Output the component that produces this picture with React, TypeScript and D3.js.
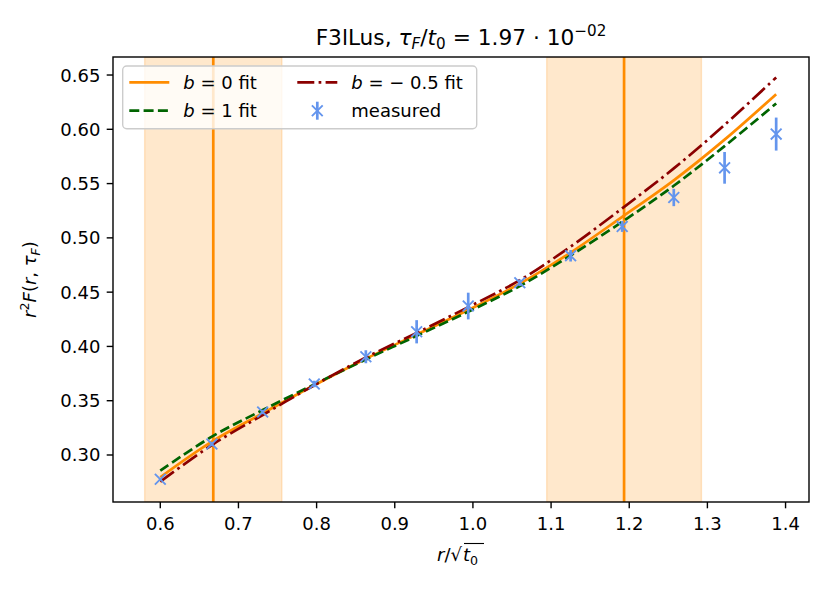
import * as d3 from "d3";

// r / sqrt(t0) of the measured points (fit curves are sampled at the same r)
const R_VALUES = [0.6, 0.666, 0.731, 0.797, 0.863, 0.928, 0.994, 1.06, 1.125, 1.191, 1.257, 1.322, 1.388];
const MEASURED = [0.2777, 0.3101, 0.3396, 0.3654, 0.3905, 0.4135, 0.4372, 0.4587, 0.4835, 0.5105, 0.5372, 0.5645, 0.5956];
const MEASURED_ERR = [0.001, 0.002, 0.002, 0.003, 0.006, 0.0107, 0.0123, 0.003, 0.0053, 0.005, 0.008, 0.0146, 0.0152];

const FIT_B0 = [0.2795, 0.3123, 0.3384, 0.3642, 0.3886, 0.411, 0.4335, 0.4578, 0.4865, 0.5194, 0.553, 0.5905, 0.6324];
const FIT_B1 = [0.2856, 0.3169, 0.3414, 0.365, 0.388, 0.4097, 0.432, 0.4556, 0.4838, 0.5148, 0.548, 0.5845, 0.6238];
const FIT_BM05 = [0.2754, 0.3092, 0.3368, 0.3642, 0.3898, 0.4125, 0.4362, 0.461, 0.492, 0.5272, 0.564, 0.604, 0.6478];

// fit windows: centre and half width
const WINDOW_CENTERS = [0.6678, 1.1934];
const WINDOW_HALF = [0.0878, 0.099];

const X_TICKS = [0.6, 0.7, 0.8, 0.9, 1.0, 1.1, 1.2, 1.3, 1.4];
const Y_TICKS = [0.3, 0.35, 0.4, 0.45, 0.5, 0.55, 0.6, 0.65];

const WIDTH = 830;
const HEIGHT = 595;
const LEFT = 113;
const RIGHT = 809;
const TOP = 57;
const BOTTOM = 502;

const ORANGE = "#ff8c00";
const GREEN = "#006400";
const RED = "#8b0000";
const BLUE = "#6495ed";
const FONT = "DejaVu Sans, sans-serif";

const x = d3.scaleLinear().domain([0.5395, 1.43]).range([LEFT, RIGHT]);
const y = d3.scaleLinear().domain([0.2567, 0.6666]).range([BOTTOM, TOP]);

const line = d3
  .line<number>()
  .x((_, i) => x(R_VALUES[i]))
  .y((d) => y(d))
  .curve(d3.curveCatmullRom.alpha(0.5));

const FITS = [
  { values: FIT_B0, color: ORANGE, dash: "none" },
  { values: FIT_B1, color: GREEN, dash: "10,4.3" },
  { values: FIT_BM05, color: RED, dash: "17,4.3,2.7,4.3" },
];

const xMarker = (cx: number, cy: number, s = 5.4) =>
  `M${cx - s},${cy - s}L${cx + s},${cy + s}M${cx - s},${cy + s}L${cx + s},${cy - s}`;

export default function App() {
  const cx = (LEFT + RIGHT) / 2;
  const cy = (TOP + BOTTOM) / 2;
  return (
    <svg
      width={WIDTH}
      height={HEIGHT}
      style={{ position: "absolute", left: 0, top: 0, background: "#fff" }}
      fontFamily={FONT}
    >
      <defs>
        <clipPath id="plot">
          <rect x={LEFT} y={TOP} width={RIGHT - LEFT} height={BOTTOM - TOP} />
        </clipPath>
      </defs>

      <g clipPath="url(#plot)">
        {WINDOW_CENTERS.map((c, i) => (
          <rect
            key={i}
            x={x(c - WINDOW_HALF[i])}
            y={TOP}
            width={x(c + WINDOW_HALF[i]) - x(c - WINDOW_HALF[i])}
            height={BOTTOM - TOP}
            fill={ORANGE}
            fillOpacity={0.2}
            stroke={ORANGE}
            strokeOpacity={0.2}
            strokeWidth={1.4}
          />
        ))}
        {WINDOW_CENTERS.map((c, i) => (
          <line key={i} x1={x(c)} x2={x(c)} y1={TOP} y2={BOTTOM} stroke={ORANGE} strokeWidth={2.7} />
        ))}

        {FITS.map((f, i) => (
          <path
            key={i}
            d={line(f.values)!}
            fill="none"
            stroke={f.color}
            strokeWidth={2.7}
            strokeDasharray={f.dash}
          />
        ))}

        {R_VALUES.map((r, i) => (
          <g key={i} stroke={BLUE}>
            <line
              x1={x(r)}
              x2={x(r)}
              y1={y(MEASURED[i] - MEASURED_ERR[i])}
              y2={y(MEASURED[i] + MEASURED_ERR[i])}
              strokeWidth={2.7}
            />
            <path d={xMarker(x(r), y(MEASURED[i]))} strokeWidth={1.9} fill="none" />
          </g>
        ))}
      </g>

      {/* frame */}
      <rect x={LEFT} y={TOP} width={RIGHT - LEFT} height={BOTTOM - TOP} fill="none" stroke="#000" strokeWidth={1.4} />

      {/* x axis */}
      {X_TICKS.map((t) => (
        <g key={t}>
          <line x1={x(t)} x2={x(t)} y1={BOTTOM} y2={BOTTOM + 6.3} stroke="#000" strokeWidth={1.4} />
          <text x={x(t)} y={530} textAnchor="middle" fontSize={18}>
            {d3.format(".1f")(t)}
          </text>
        </g>
      ))}

      {/* y axis */}
      {Y_TICKS.map((t) => (
        <g key={t}>
          <line x1={LEFT - 6.3} x2={LEFT} y1={y(t)} y2={y(t)} stroke="#000" strokeWidth={1.4} />
          <text x={LEFT - 12.6} y={y(t)} dy="0.36em" textAnchor="end" fontSize={18}>
            {d3.format(".2f")(t)}
          </text>
        </g>
      ))}

      {/* x label: r / sqrt(t0) */}
      <g fontSize={18}>
        <text x={cx - 24} y={561}>
          <tspan fontStyle="italic">r</tspan>
          <tspan>/√</tspan>
          <tspan fontStyle="italic" dx={1}>t</tspan>
          <tspan fontSize={12.6} dy={3.5}>0</tspan>
        </text>
        <line x1={cx + 3} x2={cx + 23} y1={543.5} y2={543.5} stroke="#000" strokeWidth={1.1} />
      </g>

      {/* y label */}
      <text transform={`translate(36,${cy}) rotate(-90)`} textAnchor="middle" fontSize={18}>
        <tspan fontStyle="italic">r</tspan>
        <tspan fontSize={12.6} dy={-7}>2</tspan>
        <tspan fontStyle="italic" dy={7}>F</tspan>
        <tspan>(</tspan>
        <tspan fontStyle="italic">r</tspan>
        <tspan>, </tspan>
        <tspan fontStyle="italic">τ</tspan>
        <tspan fontStyle="italic" fontSize={12.6} dy={3.5}>F</tspan>
        <tspan dy={-3.5}>)</tspan>
      </text>

      {/* title */}
      <text x={cx} y={45} textAnchor="middle" fontSize={21.7}>
        <tspan>F3lLus, </tspan>
        <tspan fontStyle="italic">τ</tspan>
        <tspan fontStyle="italic" fontSize={15.2} dy={4}>F</tspan>
        <tspan dy={-4}>/</tspan>
        <tspan fontStyle="italic">t</tspan>
        <tspan fontSize={15.2} dy={4}>0</tspan>
        <tspan dy={-4}> = 1.97 · 10</tspan>
        <tspan fontSize={15.2} dy={-9}>−02</tspan>
      </text>

      {/* legend */}
      <g fontSize={18}>
        <rect x={122.7} y={66} width={354} height={62.7} rx={4} fill="#fff" fillOpacity={0.8} stroke="#cccccc" strokeWidth={1.4} />
        {[
          { color: ORANGE, dash: "none", label: "0 fit", col: 0, row: 0 },
          { color: GREEN, dash: "10,4.3", label: "1 fit", col: 0, row: 1 },
          { color: RED, dash: "17,4.3,2.7,4.3", label: "− 0.5 fit", col: 1, row: 0 },
        ].map((e, i) => {
          const lx = e.col === 0 ? 129.3 : 297.3;
          const ly = 82.3 + e.row * 28.4;
          return (
            <g key={i}>
              <line x1={lx} x2={lx + 40} y1={ly} y2={ly} stroke={e.color} strokeWidth={2.7} strokeDasharray={e.dash} />
              <text x={lx + 54} y={ly} dy="0.36em">
                <tspan fontStyle="italic">b</tspan>
                <tspan> = {e.label}</tspan>
              </text>
            </g>
          );
        })}
        <g stroke={BLUE}>
          <line x1={317.3} x2={317.3} y1={110.7 - 9} y2={110.7 + 9} strokeWidth={2.7} />
          <path d={xMarker(317.3, 110.7)} strokeWidth={1.9} fill="none" />
        </g>
        <text x={351.3} y={110.7} dy="0.36em">measured</text>
      </g>
    </svg>
  );
}
